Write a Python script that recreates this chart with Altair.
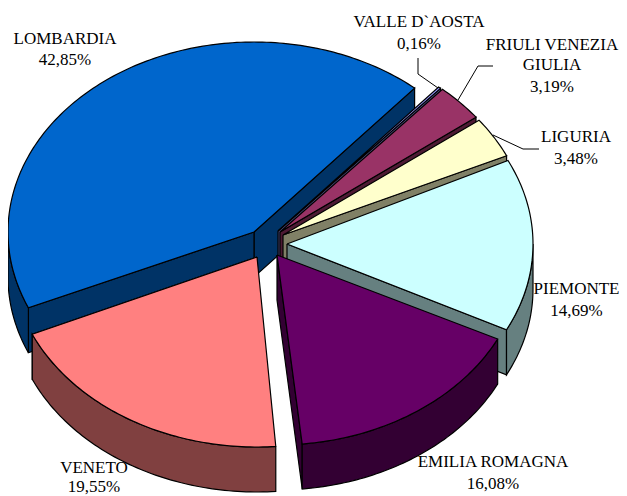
import math
import pandas as pd
import altair as alt

# --- values (clockwise from Lombardia's first edge)
regions = ["LOMBARDIA", "VALLE D`AOSTA", "FRIULI VENEZIA GIULIA", "LIGURIA", "PIEMONTE", "EMILIA ROMAGNA", "VENETO"]
shares = [42.85, 0.16, 3.19, 3.48, 14.69, 16.08, 19.55]
tops = ["#0066CC", "#9999FF", "#993366", "#FFFFCC", "#CCFFFF", "#660066", "#FF8080"]
walls = ["#003366", "#4D4D80", "#4D1A33", "#808066", "#668080", "#330033", "#804040"]

# --- layout of the tilted pie
START = -113.5
RX, RY, DEPTH = 246, 190, 45
apex = [(254, 232), (278, 231), (280, 232), (283, 235), (287, 244), (277, 255), (257, 257)]
turn = [0, 0, 0, 0, -1.4, -2, -0.5]

label_lines = [
    (65, 39, "LOMBARDIA"), (65, 60, "42,85%"),
    (419, 22, "VALLE D`AOSTA"), (419, 44, "0,16%"),
    (552, 45, "FRIULI VENEZIA"), (552, 65, "GIULIA"), (552, 87, "3,19%"),
    (576, 137, "LIGURIA"), (576, 159, "3,48%"),
    (576.5, 289, "PIEMONTE"), (576.5, 311, "14,69%"),
    (493, 462, "EMILIA ROMAGNA"), (493, 484, "16,08%"),
    (94, 468, "VENETO"), (94, 486.5, "19,55%"),
]
leaders = [
    [(418, 58), (418, 74), (438, 88)],
    [(493, 66), (478, 66), (458, 100)],
    [(539, 149), (523, 149), (493, 135)],
]

X = alt.X("x:Q", scale=alt.Scale(domain=[8, 619]), axis=None)
Y = alt.Y("y:Q", scale=alt.Scale(domain=[496, 8]), axis=None)


def rim(c, t, drop=0):
    r = math.radians(t)
    return (c[0] + RX * math.sin(r), c[1] - RY * math.cos(r) + drop)


def arc(c, t0, t1, drop=0):
    n = max(2, int(abs(t1 - t0)) + 2)
    return [rim(c, t0 + (t1 - t0) * i / (n - 1), drop) for i in range(n)]


def poly(pts, fill):
    pts = list(pts) + [pts[0]]
    df = pd.DataFrame({"x": [p[0] for p in pts], "y": [p[1] for p in pts], "i": range(len(pts))})
    return alt.Chart(df).mark_line(fill=fill, stroke="black", strokeWidth=1.2, strokeJoin="miter", clip=False).encode(
        x=X, y=Y, order=alt.Order("i:Q"))


def radial(c, t, fill):
    e = rim(c, t)
    return poly([c, e, (e[0], e[1] + DEPTH), (c[0], c[1] + DEPTH)], fill)


spans = []
acc = START
for s in shares:
    spans.append((acc, acc + s * 3.6))
    acc += s * 3.6

layers = []
for idx in [0, 1, 2, 3, 4, 6, 5]:
    c = apex[idx]
    t0, t1 = spans[idx][0] + turn[idx], spans[idx][1] + turn[idx]
    face = []
    if idx == 0:
        face.append(radial(c, t1, walls[idx]))   # back-right inner wall
        face.append(radial(c, t0, walls[idx]))   # front-left inner wall
    else:
        face.append(radial(c, t1, walls[idx]))
    # rim wall: only the part that faces the viewer (90..270 deg)
    for a0, a1 in [(t0, t1), (t0 + 360, t1 + 360), (t0 - 360, t1 - 360)]:
        lo, hi = max(a0, 90), min(a1, 270)
        if hi > lo:
            face.append(poly(arc(c, lo, hi) + arc(c, hi, lo, DEPTH), walls[idx]))
    face.append(poly([c] + arc(c, t0, t1), tops[idx]))
    layers.extend(face)

for path in leaders:
    df = pd.DataFrame({"x": [p[0] for p in path], "y": [p[1] for p in path], "i": range(len(path))})
    layers.append(alt.Chart(df).mark_line(color="black", strokeWidth=1).encode(x=X, y=Y, order=alt.Order("i:Q")))

text_df = pd.DataFrame({"x": [l[0] for l in label_lines], "y": [l[1] for l in label_lines], "t": [l[2] for l in label_lines]})
layers.append(alt.Chart(text_df).mark_text(font="Liberation Serif", fontSize=17, color="black", align="center", baseline="middle").encode(
    x=X, y=Y, text="t:N"))

chart = alt.layer(*layers).properties(
    width=611, height=488, padding=0, autosize=alt.AutoSizeParams(type="none")
).configure_view(stroke=None)

chart.save("out.html", embed_options={"renderer": "svg", "actions": False})
